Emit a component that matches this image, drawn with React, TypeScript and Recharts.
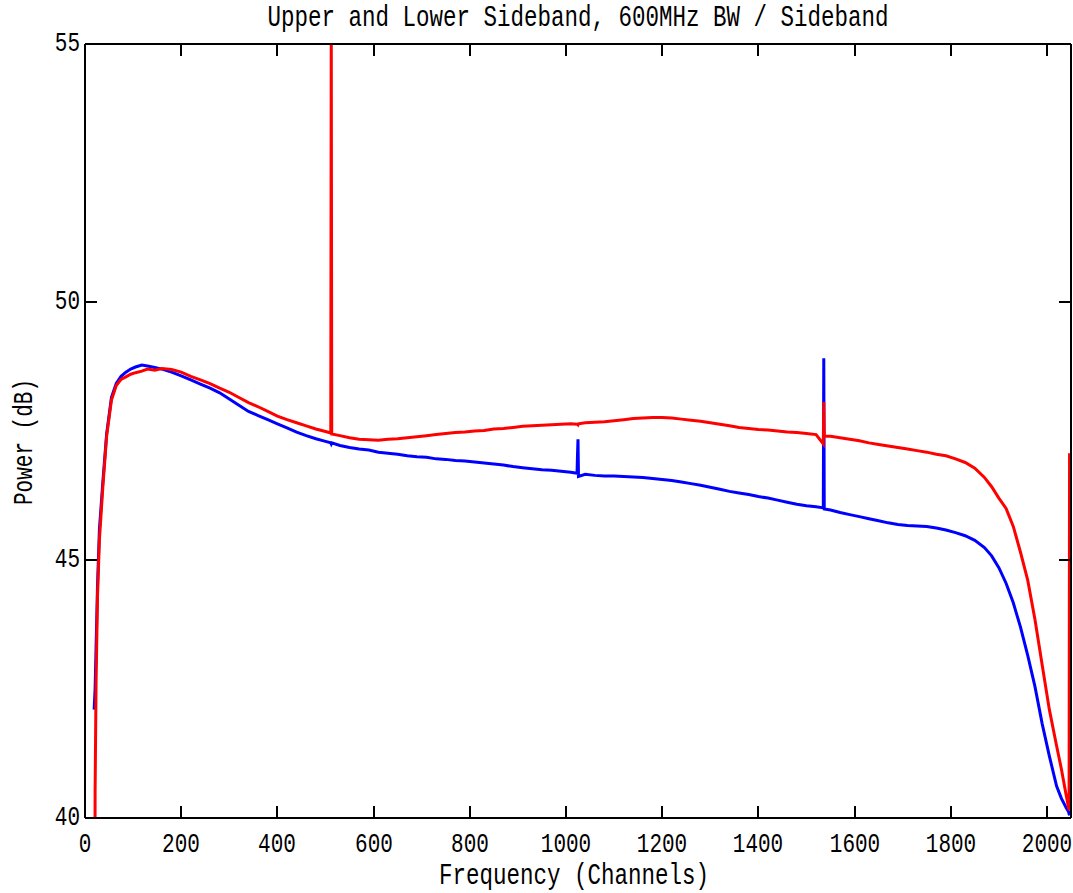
import React from "react";
import { LineChart, Line, XAxis, YAxis } from "recharts";

// Channel numbers (x values)
const channels = [
  19, 21, 23, 26, 30, 37, 45, 55, 65, 75,
  85, 95, 105, 118, 130, 145, 160, 180, 200, 220,
  240, 260, 280, 300, 320, 340, 360, 380, 400, 420,
  440, 460, 480, 500, 511, 512, 513, 530, 550, 570,
  590, 610, 630, 650, 670, 690, 710, 730, 750, 770,
  790, 810, 830, 850, 870, 890, 910, 930, 950, 970,
  990, 1010, 1023, 1024, 1025, 1026, 1040, 1060, 1080, 1100,
  1120, 1140, 1160, 1180, 1200, 1220, 1240, 1260, 1280, 1300,
  1320, 1340, 1360, 1380, 1400, 1420, 1440, 1460, 1480, 1500,
  1520, 1535, 1536, 1537, 1550, 1570, 1590, 1610, 1630, 1650,
  1670, 1690, 1710, 1730, 1750, 1770, 1790, 1810, 1830, 1850,
  1870, 1885, 1900, 1915, 1930, 1945, 1960, 1975, 1990, 2005,
  2020, 2030, 2040, 2045, 2046, 2047,
];

// Red trace (dB)
const upperSideband = [
  30.0, 40.5, 42.6, 44.3, 45.4, 46.4, 47.4, 48.1, 48.38, 48.5,
  48.55, 48.6, 48.63, 48.66, 48.7, 48.68, 48.71, 48.69, 48.64, 48.56,
  48.49, 48.42, 48.33, 48.25, 48.15, 48.05, 47.97, 47.88, 47.79, 47.72,
  47.66, 47.6, 47.54, 47.49, 47.46, 55.5, 47.44, 47.41, 47.37, 47.34,
  47.33, 47.32, 47.34, 47.35, 47.37, 47.39, 47.41, 47.43, 47.45, 47.47,
  47.48, 47.5, 47.51, 47.54, 47.55, 47.57, 47.59, 47.6, 47.61, 47.62,
  47.63, 47.64, 47.63, 47.63, 47.62, 47.64, 47.66, 47.67, 47.68, 47.7,
  47.72, 47.74, 47.75, 47.76, 47.76, 47.75, 47.73, 47.71, 47.69, 47.66,
  47.63, 47.6, 47.57, 47.55, 47.53, 47.52, 47.5, 47.48, 47.47, 47.45,
  47.43, 47.25, 48.06, 47.4, 47.4, 47.37, 47.34, 47.31, 47.27, 47.24,
  47.21, 47.18, 47.15, 47.12, 47.09, 47.05, 47.02, 46.96, 46.89, 46.78,
  46.6, 46.42, 46.2, 46.0, 45.65, 45.15, 44.61, 43.85, 42.97, 42.1,
  41.4, 40.95, 40.44, 40.2, 40.15, 47.07,
];

// Blue trace (dB)
const lowerSideband = [
  42.1, 42.5, 43.3, 44.5, 45.6, 46.5, 47.45, 48.15, 48.42, 48.56,
  48.64, 48.7, 48.74, 48.78, 48.76, 48.73, 48.7, 48.64, 48.57, 48.49,
  48.41, 48.33, 48.24, 48.12, 48.0, 47.88, 47.8, 47.72, 47.64, 47.56,
  47.48, 47.41, 47.35, 47.3, 47.27, 47.25, 47.27, 47.22, 47.18, 47.15,
  47.13, 47.09, 47.07, 47.05, 47.02, 47.0, 46.99, 46.96, 46.95, 46.93,
  46.92, 46.9, 46.88, 46.86, 46.84, 46.81, 46.79, 46.77, 46.75, 46.74,
  46.72, 46.7, 46.68, 47.05, 47.34, 46.62, 46.66, 46.64, 46.63, 46.63,
  46.62, 46.61, 46.6, 46.58, 46.56, 46.54, 46.51, 46.48, 46.45, 46.41,
  46.37, 46.33, 46.3, 46.27, 46.23, 46.2, 46.16, 46.12, 46.08, 46.05,
  46.03, 46.01, 48.91, 45.99, 45.97, 45.92, 45.88, 45.84, 45.8, 45.76,
  45.72, 45.69, 45.67, 45.66, 45.65, 45.62, 45.58, 45.53, 45.47, 45.38,
  45.24, 45.08, 44.85, 44.55, 44.17, 43.7, 43.15, 42.55, 41.83, 41.2,
  40.62, 40.38, 40.2, 40.12, 40.08, 40.05,
];

const xTicks = [0, 200, 400, 600, 800, 1000, 1200, 1400, 1600, 1800, 2000];
const yTicks = [40, 45, 50, 55];

const data = channels.map((ch, i) => ({
  ch,
  upper: upperSideband[i],
  lower: lowerSideband[i],
}));

const FONT = '"Liberation Mono", "DejaVu Sans Mono", monospace';
const PLOT_LEFT = 85;
const PLOT_RIGHT = 1071;
const PLOT_TOP = 44;
const PLOT_BOTTOM = 818;
const TICK_LEN = 12;

const XTick = (props: any) => {
  const { x, payload } = props;
  const px = Math.round(x);
  return (
    <g>
      <rect x={px - 1} y={PLOT_BOTTOM - TICK_LEN} width={2} height={TICK_LEN} fill="#000" />
      <rect x={px - 1} y={PLOT_TOP} width={2} height={TICK_LEN} fill="#000" />
      <text
        x={px}
        y={845}
        transform={`translate(0,${-845 * 0.3}) scale(1,1.3)`}
        textAnchor="middle"
        dominantBaseline="central"
        fontFamily={FONT}
        fontSize={21}
        fill="#000"
      >
        {payload.value}
      </text>
    </g>
  );
};

const YTick = (props: any) => {
  const { y, payload } = props;
  const py = Math.round(y);
  return (
    <g>
      <rect x={PLOT_LEFT} y={py - 1} width={TICK_LEN} height={2} fill="#000" />
      <rect x={PLOT_RIGHT - TICK_LEN} y={py - 1} width={TICK_LEN} height={2} fill="#000" />
      <text
        x={80}
        y={py}
        transform={`translate(0,${-py * 0.3}) scale(1,1.3)`}
        textAnchor="end"
        dominantBaseline="central"
        fontFamily={FONT}
        fontSize={21}
        fill="#000"
      >
        {payload.value}
      </text>
    </g>
  );
};

const Empty = () => <g />;

const textStyle: React.CSSProperties = {
  position: "absolute",
  fontFamily: FONT,
  color: "#000",
  lineHeight: 1,
  whiteSpace: "nowrap",
};

const axisLine = { stroke: "#000", strokeWidth: 2 };

export default function App() {
  return (
    <div style={{ position: "absolute", left: 0, top: 0, width: 1073, height: 893, background: "#fff", overflow: "hidden" }}>
      <LineChart
        width={1073}
        height={893}
        data={data}
        margin={{ top: 43, right: 1, bottom: 74, left: 84 }}
      >
        <XAxis
          dataKey="ch"
          type="number"
          domain={[0, 2050]}
          ticks={xTicks}
          allowDataOverflow
          height={1}
          tickLine={false}
          tick={<XTick />}
          axisLine={axisLine}
        />
        <XAxis
          xAxisId="top"
          orientation="top"
          dataKey="ch"
          type="number"
          domain={[0, 2050]}
          ticks={xTicks}
          allowDataOverflow
          height={1}
          tickLine={false}
          tick={<Empty />}
          axisLine={axisLine}
        />
        <YAxis
          type="number"
          domain={[40, 55]}
          ticks={yTicks}
          allowDataOverflow
          width={1}
          tickLine={false}
          tick={<YTick />}
          axisLine={axisLine}
        />
        <YAxis
          yAxisId="right"
          orientation="right"
          type="number"
          domain={[40, 55]}
          ticks={yTicks}
          allowDataOverflow
          width={1}
          tickLine={false}
          tick={<Empty />}
          axisLine={axisLine}
        />
        <Line
          type="linear"
          dataKey="lower"
          stroke="#0000ff"
          strokeWidth={3}
          dot={false}
          isAnimationActive={false}
        />
        <Line
          type="linear"
          dataKey="upper"
          stroke="#ff0000"
          strokeWidth={3}
          dot={false}
          isAnimationActive={false}
        />
      </LineChart>
      <div style={{ ...textStyle, left: 578, top: 18, fontSize: 22.5, transform: "translate(-50%,-50%) scale(1,1.35)" }}>
        Upper and Lower Sideband, 600MHz BW / Sideband
      </div>
      <div style={{ ...textStyle, left: 574, top: 877, fontSize: 22.5, transform: "translate(-50%,-50%) scale(1,1.3)" }}>
        Frequency (Channels)
      </div>
      <div style={{ ...textStyle, left: 25, top: 442, fontSize: 21, transform: "translate(-50%,-50%) rotate(-90deg) scale(1,1.35)" }}>
        Power (dB)
      </div>
    </div>
  );
}
